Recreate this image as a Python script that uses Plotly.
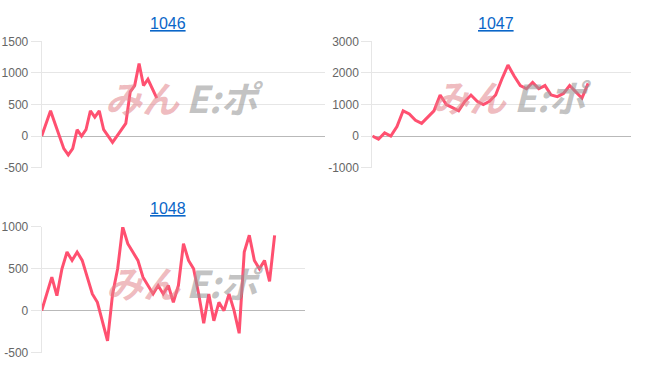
import plotly.graph_objects as go

W, H = 652, 382

titles = ["1046", "1047", "1048"]

values_1046 = [0, 200, 400, 200, 0, -200, -300, -200, 100, 0, 100, 400, 300, 400, 100,
               0, -100, 0, 100, 200, 700, 800, 1150, 800, 900, 750, 600]
values_1047 = [0, -100, 100, 0, 300, 800, 700, 500, 400, 600, 800, 1300, 1000, 900, 800,
               1100, 1300, 1100, 1000, 1100, 1300, 1800, 2250, 1900, 1600, 1500, 1700, 1500,
               1600, 1300, 1250, 1350, 1600, 1400, 1200, 1670]
values_1048 = [0, 200, 400, 180, 500, 700, 600, 700, 600, 400, 200, 100, -120, -360, 200,
               500, 1000, 800, 700, 600, 400, 300, 200, 300, 200, 300, 100, 300, 800, 600,
               500, 200, -150, 200, -120, 100, 0, 200, 0, -270, 700, 900, 600, 500, 600,
               350, 900]
series = [values_1046, values_1047, values_1048]

label_counts = [65, 43, 53]
y_ranges = [(-500, 1500), (-1000, 3000), (-500, 1000)]
y_ticks = [[-500, 0, 500, 1000, 1500], [-1000, 0, 1000, 2000, 3000], [-500, 0, 500, 1000]]

areas = [(41.7, 325, 35.7, 166.7), (372.3, 631.3, 35.7, 166.7), (41.7, 305, 228.3, 358.7)]
title_pos = [(168, 17.5), (495.5, 17.5), (168, 209)]
wm_pos = [(142, 93, 225), (470, 92, 553), (143, 285, 225)]

LINE = "#ff5070"
GRID = "#e6e6e6"
ZERO = "#b9b9b9"

fig = go.Figure()
layout = dict(
    width=W, height=H, margin=dict(l=0, r=0, t=0, b=0, pad=0), autosize=False,
    paper_bgcolor="white", plot_bgcolor="white", showlegend=False,
    font=dict(family="Arial, Liberation Sans, sans-serif", size=12, color="#666666"),
)
annotations = []
for i, vals in enumerate(series):
    n = i + 1
    xa = "x" if n == 1 else f"x{n}"
    ya = "y" if n == 1 else f"y{n}"
    fig.add_trace(go.Scatter(
        x=list(range(len(vals))), y=vals, mode="lines",
        line=dict(color=LINE, width=3), xaxis=xa, yaxis=ya, hoverinfo="skip"))
    x0, x1, yt, yb = areas[i]
    key = "" if n == 1 else str(n)
    layout["xaxis" + key] = dict(
        domain=[x0 / W, x1 / W], range=[0, label_counts[i] - 1],
        showticklabels=False, showgrid=False, zeroline=False, ticks="",
        anchor=ya, fixedrange=True)
    layout["yaxis" + key] = dict(
        domain=[1 - yb / H, 1 - yt / H], range=list(y_ranges[i]),
        tickvals=y_ticks[i], ticktext=[str(v) for v in y_ticks[i]],
        showgrid=True, gridcolor=GRID, gridwidth=1,
        zeroline=True, zerolinecolor=ZERO, zerolinewidth=1,
        showline=True, linecolor=GRID, linewidth=1,
        ticks="outside", ticklen=10, tickcolor=GRID, tickwidth=1,
        tickfont=dict(size=12, color="#666666", family="Arial, Liberation Sans, sans-serif"),
        anchor=xa, fixedrange=True)
    tx, ty = title_pos[i]
    annotations.append(dict(
        text=f"<u>{titles[i]}</u>", x=tx / W, y=1 - ty / H, xref="paper", yref="paper",
        showarrow=False, xanchor="center", yanchor="middle",
        font=dict(size=16, color="#0a66c8", family="Arial, Liberation Sans, sans-serif")))
    px, py, gx = wm_pos[i]
    annotations.append(dict(
        text="みん", x=px / W, y=1 - py / H, xref="paper", yref="paper",
        showarrow=False, xanchor="center", yanchor="middle",
        font=dict(size=37, color="rgba(225,130,138,0.55)", family="Noto Sans CJK JP",
                  weight="bold", style="italic")))
    annotations.append(dict(
        text="E:ポ", x=gx / W, y=1 - py / H, xref="paper", yref="paper",
        showarrow=False, xanchor="center", yanchor="middle",
        font=dict(size=37, color="rgba(150,150,150,0.58)", family="Noto Sans CJK JP",
                  weight="bold", style="italic")))

layout["annotations"] = annotations
fig.update_layout(**layout)
fig.write_html("out.html")
